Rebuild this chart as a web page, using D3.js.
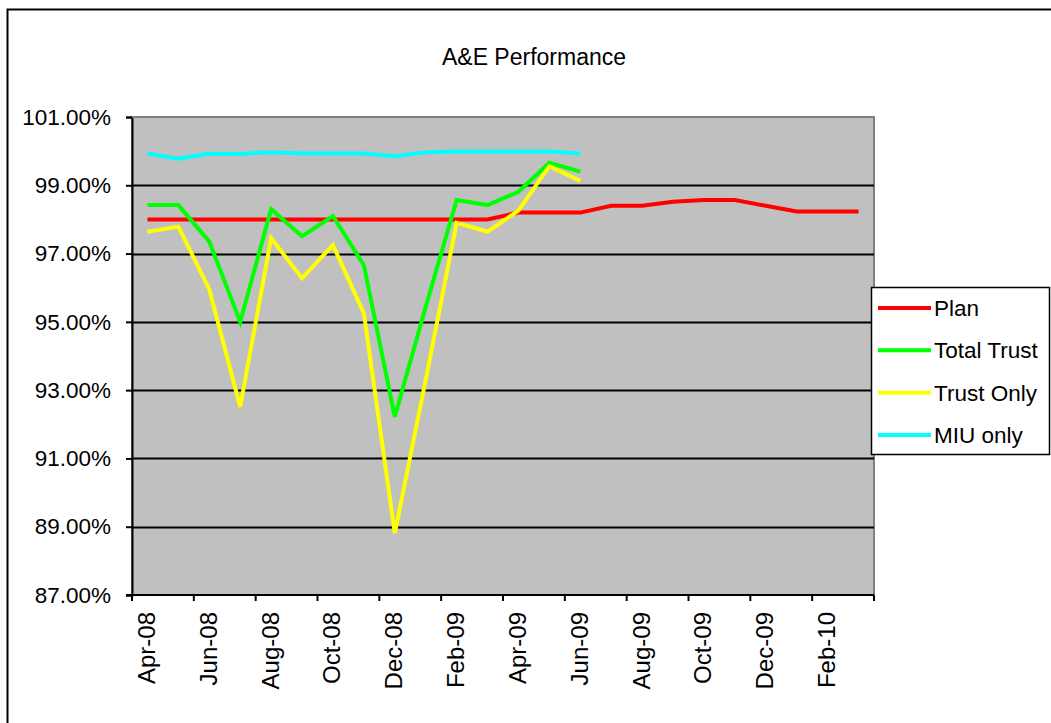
<!DOCTYPE html>
<html>
<head>
<meta charset="utf-8">
<script src="https://cdn.jsdelivr.net/npm/d3@7/dist/d3.min.js"></script>
<style>
  html, body { margin: 0; padding: 0; background: #ffffff; }
  svg { display: block; font-family: Arial, "Liberation Sans", sans-serif; }
</style>
</head>
<body>
<svg id="chart" width="1051" height="723"></svg>
<script>
// Monthly categories, April 2008 to March 2010
const months = ["Apr-08","May-08","Jun-08","Jul-08","Aug-08","Sep-08","Oct-08","Nov-08","Dec-08",
  "Jan-09","Feb-09","Mar-09","Apr-09","May-09","Jun-09","Jul-09","Aug-09","Sep-09","Oct-09",
  "Nov-09","Dec-09","Jan-10","Feb-10","Mar-10"];
const monthLabels = ["Apr-08","Jun-08","Aug-08","Oct-08","Dec-08","Feb-09","Apr-09","Jun-09",
  "Aug-09","Oct-09","Dec-09","Feb-10"];
const yTicks = [87, 89, 91, 93, 95, 97, 99, 101];

// Percentage of A&E patients seen within target (%)
const plan = [98.0, 98.0, 98.0, 98.0, 98.0, 98.0, 98.0, 98.0, 98.0, 98.0, 98.0, 98.0,
  98.2, 98.2, 98.2, 98.4, 98.4, 98.52, 98.57, 98.57, 98.4, 98.23, 98.23, 98.23];
const totalTrust = [98.42, 98.42, 97.35, 95.0, 98.3, 97.51, 98.1, 96.66, 92.22, 95.44,
  98.57, 98.42, 98.81, 99.66, 99.4];
const trustOnly = [97.64, 97.79, 95.95, 92.51, 97.45, 96.28, 97.25, 95.25, 88.81, 93.3,
  97.9, 97.64, 98.26, 99.56, 99.13];
const miuOnly = [99.93, 99.78, 99.92, 99.92, 99.97, 99.93, 99.93, 99.93, 99.85, 99.97,
  99.99, 99.99, 99.99, 99.99, 99.93];

const seriesNames = ["Plan", "Total Trust", "Trust Only", "MIU only"];
const seriesColors = ["#ff0000", "#00ff00", "#ffff00", "#00ffff"];
const seriesValues = [plan, totalTrust, trustOnly, miuOnly];

const svg = d3.select("#chart");

// Chart frame
svg.append("rect")
  .attr("x", 7.5).attr("y", 9.5)
  .attr("width", 1100).attr("height", 800)
  .attr("fill", "#ffffff").attr("stroke", "#000000").attr("stroke-width", 2);

// Title
svg.append("text")
  .attr("x", 534).attr("y", 65)
  .attr("text-anchor", "middle")
  .attr("font-size", 23)
  .attr("fill", "#000")
  .text("A&E Performance");

const plot = { left: 132, right: 874, top: 117, bottom: 595 };

const x = d3.scaleBand().domain(months).range([plot.left, plot.right]).padding(0);
const y = d3.scaleLinear().domain([87, 101]).range([plot.bottom, plot.top]);
const cx = m => x(m) + x.bandwidth() / 2;

// Plot area
svg.append("rect")
  .attr("x", plot.left).attr("y", plot.top)
  .attr("width", plot.right - plot.left).attr("height", plot.bottom - plot.top)
  .attr("fill", "#c0c0c0").attr("stroke", "#808080").attr("stroke-width", 2);

// Horizontal gridlines
svg.append("g")
  .selectAll("line")
  .data(yTicks.filter(t => t > 87 && t < 101))
  .join("line")
  .attr("x1", plot.left).attr("x2", plot.right)
  .attr("y1", d => Math.round(y(d)) + 0.5).attr("y2", d => Math.round(y(d)) + 0.5)
  .attr("stroke", "#000").attr("stroke-width", 2);

// Y axis
const yAxis = svg.append("g")
  .attr("transform", `translate(${plot.left},0)`)
  .call(d3.axisLeft(y).tickValues(yTicks).tickSize(6).tickPadding(15)
    .tickFormat(d => d.toFixed(2) + "%"));
yAxis.select(".domain").attr("stroke", "#000").attr("stroke-width", 2);
yAxis.selectAll(".tick line").attr("stroke", "#000").attr("stroke-width", 2);
yAxis.selectAll(".tick text")
  .attr("font-size", 22.5).attr("font-family", "Arial, 'Liberation Sans', sans-serif")
  .attr("fill", "#000");

// X axis: tick marks on category boundaries, labels on every other month
const xAxis = svg.append("g")
  .attr("transform", `translate(0,${plot.bottom})`);
xAxis.append("line")
  .attr("x1", plot.left - 6).attr("x2", plot.right)
  .attr("y1", 0).attr("y2", 0)
  .attr("stroke", "#000").attr("stroke-width", 2);
const boundaries = months.filter((m, i) => i % 2 === 0).map(m => x(m)).concat([plot.right]);
xAxis.selectAll("line.tick")
  .data(boundaries)
  .join("line")
  .attr("class", "tick")
  .attr("x1", d => d).attr("x2", d => d)
  .attr("y1", 0).attr("y2", 6)
  .attr("stroke", "#000").attr("stroke-width", 2);

const xLabels = svg.append("g")
  .attr("transform", `translate(0,${plot.bottom})`)
  .call(d3.axisBottom(x).tickValues(monthLabels).tickSize(0).tickPadding(0));
xLabels.select(".domain").remove();
xLabels.selectAll(".tick text")
  .attr("font-size", 24).attr("font-family", "Arial, 'Liberation Sans', sans-serif")
  .attr("fill", "#000")
  .attr("text-anchor", "end")
  .attr("transform", "rotate(-90)")
  .attr("x", -17).attr("y", -1).attr("dy", "0.35em");

// Series lines
const line = d3.line()
  .x((d, i) => cx(months[i]))
  .y(d => y(d));

svg.append("g")
  .selectAll("path")
  .data(seriesValues)
  .join("path")
  .attr("d", d => line(d))
  .attr("fill", "none")
  .attr("stroke", (d, i) => seriesColors[i])
  .attr("stroke-width", 4)
  .attr("stroke-linejoin", "miter");

// Redraw the plot area top edge above the data
svg.append("line")
  .attr("x1", plot.left).attr("x2", plot.right)
  .attr("y1", plot.top).attr("y2", plot.top)
  .attr("stroke", "#808080").attr("stroke-width", 2);

// Legend
const legend = svg.append("g");
legend.append("rect")
  .attr("x", 871.5).attr("y", 287.5)
  .attr("width", 178).attr("height", 167)
  .attr("fill", "#ffffff").attr("stroke", "#000").attr("stroke-width", 1.5);
const rowY = d3.scalePoint().domain(seriesNames).range([308, 435]);
const items = legend.selectAll("g.item")
  .data(seriesNames)
  .join("g")
  .attr("class", "item")
  .attr("transform", d => `translate(0,${rowY(d)})`);
items.append("line")
  .attr("x1", 878).attr("x2", 931)
  .attr("y1", 0).attr("y2", 0)
  .attr("stroke", (d, i) => seriesColors[i])
  .attr("stroke-width", 4);
items.append("text")
  .attr("x", 934).attr("y", 0).attr("dy", "0.36em")
  .attr("font-size", 22.5)
  .attr("fill", "#000")
  .text(d => d);
</script>
</body>
</html>
